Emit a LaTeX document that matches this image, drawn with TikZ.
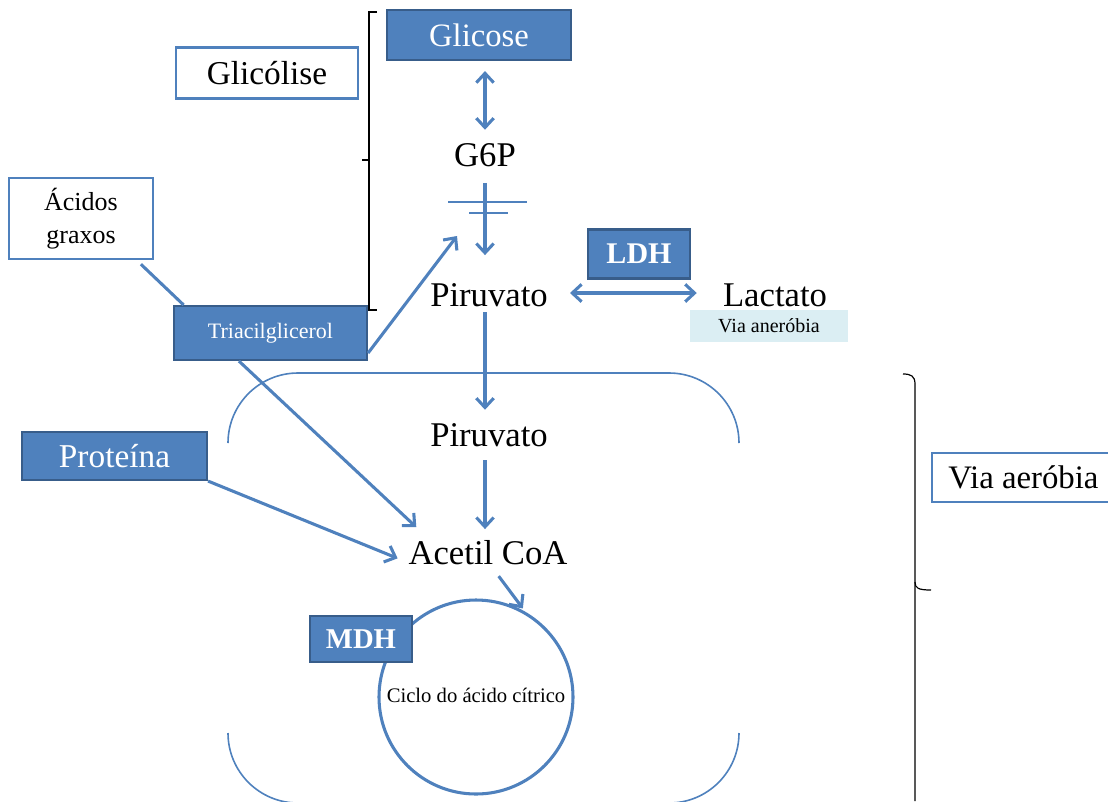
\documentclass[tikz,border=0pt]{standalone}
\usepackage{fontspec}
\setmainfont{Liberation Serif}
\usetikzlibrary{arrows.meta}
\definecolor{bfill}{HTML}{4F81BD}
\definecolor{bdraw}{HTML}{385D8A}
\definecolor{lblue}{HTML}{DBEEF3}
\begin{document}
\begin{tikzpicture}[x=0.75pt,y=-0.75pt,
  bluebox/.style={draw=bdraw,line width=1.6pt,fill=bfill,text=white,inner sep=0pt},
  whitebox/.style={draw=bfill,line width=1.8pt,fill=white,inner sep=0pt},
  lbl/.style={inner sep=0pt,font=\fontsize{26}{30}\selectfont},
  tip/.tip={Straight Barb[length=7pt,width=13pt]},
  arr/.style={draw=bfill,line width=2.3pt,-tip},
  dbl/.style={draw=bfill,line width=2.3pt,tip-tip},
  plain/.style={draw=bfill,line width=2.3pt},
  thinblue/.style={draw=bfill,line width=1.2pt},
  brace/.style={draw=black,line width=0.9pt}]
\useasboundingbox (0,0) rectangle (1108,801);
\clip (0,0) rectangle (1108,801);

% mitochondrion outline
\draw[thinblue] (228,443) arc[start angle=180,end angle=270,radius=70] -- (669,373) arc[start angle=270,end angle=360,radius=70];
\draw[thinblue] (228,733) arc[start angle=180,end angle=90,radius=70] -- (669,803) arc[start angle=90,end angle=0,radius=70];

% brackets
\draw[brace] (377,12) -- (369,12) -- (369,310) -- (377,310);
\draw[brace] (369,160) -- (362,160);
\draw[brace] (903,374) .. controls (911,374) and (915,376) .. (915,384) -- (915,801);
\draw[brace] (915,582) .. controls (915,588) and (918,590) .. (931,590);

% nodes
\node[bluebox,minimum width=138pt,minimum height=37.5pt,font=\fontsize{24.5}{28}\selectfont] (glicose) at (479,35) {Glicose};
\node[whitebox,minimum width=136.5pt,minimum height=38.25pt,font=\fontsize{25}{28}\selectfont] (glicolise) at (267,73) {Glicólise};
\node[lbl] (g6p) at (485,155) {G6P};
\node[lbl] (pir1) at (489,295) {Piruvato};
\node[bluebox,minimum width=76.5pt,minimum height=36.75pt,font=\fontsize{22.5}{26}\selectfont\bfseries] (ldh) at (639,254) {LDH};
\node[lbl] (lact) at (775,295) {Lactato};
\node[fill=lblue,inner sep=0pt,minimum width=118.5pt,minimum height=24pt,font=\fontsize{15}{18}\selectfont] (anaer) at (769,326) {Via aneróbia};
\node[whitebox,minimum width=108pt,minimum height=60.75pt,align=center,font=\fontsize{19.5}{24.5}\selectfont] (acidos) at (81,218.5) {\raisebox{-2pt}{Ácidos}\\\raisebox{-2pt}{graxos}};
\node[bluebox,minimum width=144.75pt,minimum height=40.5pt,font=\fontsize{16.5}{20}\selectfont] (tag) at (270.5,333) {Triacilglicerol};
\node[lbl] (pir2) at (489,435) {Piruvato};
\node[lbl] (acetil) at (488,553) {Acetil CoA};
\node[bluebox,minimum width=138.75pt,minimum height=36pt,font=\fontsize{25}{28}\selectfont] (prot) at (114.5,456) {Proteína};
\node[circle,draw=bfill,line width=2.3pt,inner sep=0pt,minimum size=145.5pt,font=\fontsize{15.5}{18}\selectfont] (ciclo) at (476,697) {\raisebox{3pt}{Ciclo do ácido cítrico}};
\node[bluebox,minimum width=76.5pt,minimum height=34.5pt,font=\fontsize{21.5}{26}\selectfont\bfseries] (mdh) at (361,639) {MDH};
\node[whitebox,minimum width=137.25pt,minimum height=36.75pt,font=\fontsize{24.6}{28}\selectfont] (aerobia) at (1023.5,477.5) {Via aeróbia};

% free end
\coordinate (tagtip) at (457,236);

% connectors
\draw[plain] ([xshift=-10pt,yshift=-3pt]acidos.south east) -- ([xshift=8pt]tag.north west);
\draw[dbl,shorten <=7.5pt,shorten >=10pt] (glicose.south -| g6p.north) -- (g6p.north);
\draw[arr,shorten <=12pt,shorten >=21pt] (g6p.south) -- (g6p.south |- pir1.north);
\draw[thinblue] (448,202) -- (527,202);
\draw[thinblue] (469,213) -- (508,213);
\draw[dbl,shorten <=16.5pt,shorten >=19.5pt] ([yshift=1.5pt]pir1.east) -- ([yshift=1.5pt]pir1.east -| lact.west);
\draw[arr,shorten <=4pt,shorten >=10pt] ([xshift=-3pt]pir1.south) -- ([xshift=-3pt]pir2.north);
\draw[arr,shorten <=10pt,shorten >=8.6pt] ([xshift=-3pt]pir2.south) -- ([xshift=-3pt]pir2.south |- acetil.north);
\draw[arr] ([yshift=6pt]tag.south east) -- (tagtip);
\draw[arr] ([xshift=49.5pt]tag.south west) -- ([xshift=6pt,yshift=10pt]acetil.north west);
\draw[arr] (prot.south east) -- ([xshift=-8pt,yshift=-4pt]acetil.west);
\draw[arr,shorten >=3pt] ([xshift=8pt,yshift=-8pt]acetil.south) -- (ciclo.60);
\end{tikzpicture}
\end{document}
